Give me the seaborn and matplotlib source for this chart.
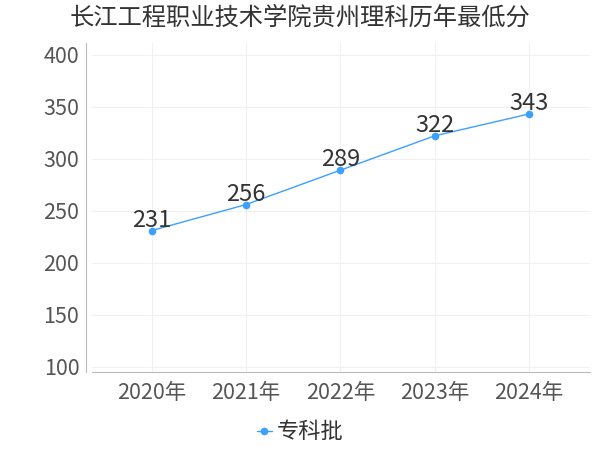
import matplotlib
matplotlib.use("Agg")
import matplotlib.pyplot as plt
import seaborn as sns
import pandas as pd

sns.set_style("white")
plt.rcParams['font.family'] = ['Noto Sans CJK SC', 'DejaVu Sans']

years = ["2020年", "2021年", "2022年", "2023年", "2024年"]
scores = [231, 256, 289, 322, 343]
series = "专科批"
title = "长江工程职业技术学院贵州理科历年最低分"

df = pd.DataFrame({"year": years, "score": scores, "batch": series})

fig = plt.figure(figsize=(6, 4.5), dpi=100)
ax = fig.add_axes([0.153, 0.173, 0.830, 0.731])

line_color = "#3ca0ff"
sns.lineplot(data=df, x="year", y="score", hue="batch", palette=[line_color],
             marker="o", markersize=5.5, markeredgewidth=0, linewidth=1.0,
             sort=False, ax=ax)

for i, v in enumerate(scores):
    ax.text(i, v - 1, str(v), ha="center", va="bottom", fontsize=17, color="#333333")

ax.set_xlim(-0.635, 4.645)
ax.set_ylim(95, 411)
ax.set_yticks([100, 150, 200, 250, 300, 350, 400])
ax.grid(True, color="#f0f0f0", linewidth=0.8)
ax.set_axisbelow(True)
ax.set_xlabel("")
ax.set_ylabel("")

for s in ["top", "right"]:
    ax.spines[s].set_visible(False)
ax.spines["left"].set_position(("outward", 4))
ax.spines["left"].set_color("#bbbbbb")
ax.spines["bottom"].set_color("#bbbbbb")
ax.tick_params(axis="both", colors="#cccccc", labelcolor="#555555", labelsize=15.5,
               length=4, width=0.8)
ax.tick_params(axis="y", pad=1)
ax.tick_params(axis="x", pad=3)

fig.text(0.5, 1 - 18 / 450, title, ha="center", va="center", fontsize=17.5, color="#333333")

ax.get_legend().remove()
h, l = ax.get_legend_handles_labels()
fig.legend(h, l, loc="center", bbox_to_anchor=(0.5, 1 - 432 / 450), frameon=False,
           fontsize=16, handlelength=0.7, handletextpad=0.2, labelcolor="#333333")

fig.savefig("out.png", dpi=100)
